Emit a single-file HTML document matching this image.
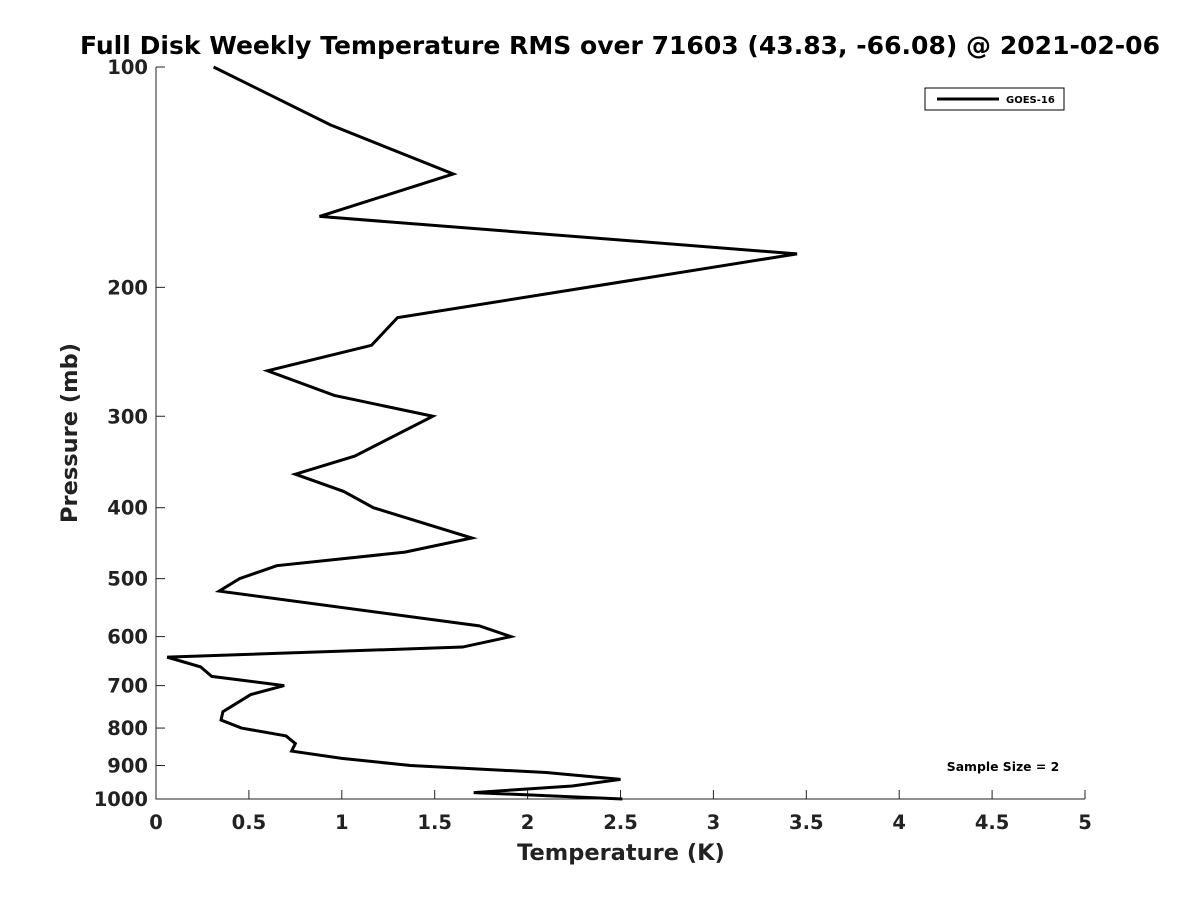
<!DOCTYPE html>
<html><head><meta charset="utf-8"><style>
body{margin:0;background:#fff;font-family:"Liberation Sans","DejaVu Sans",sans-serif}
svg text{font-family:"DejaVu Sans","Liberation Sans",sans-serif;font-weight:bold;fill:#222}
</style></head><body>
<svg id="c" width="1200" height="900">
<text x="620" y="54" text-anchor="middle" font-size="25" textLength="1080" lengthAdjust="spacingAndGlyphs" style="fill:#000">Full Disk Weekly Temperature RMS over 71603 (43.83, -66.08) @ 2021-02-06</text>
<text x="621" y="860" text-anchor="middle" font-size="22.5">Temperature (K)</text>
<text transform="translate(77,433) rotate(-90)" text-anchor="middle" font-size="22.5">Pressure (mb)</text>
<g id="ax"></g>
<g>
<rect x="925" y="88" width="139" height="22" fill="#fff" stroke="#000" stroke-width="1"/>
<line x1="937" y1="99" x2="999" y2="99" stroke="#000" stroke-width="3"/>
<text x="1006" y="103" font-size="10" style="fill:#000">GOES-16</text>
</g>
<text x="1003" y="771" text-anchor="middle" font-size="12.4" style="fill:#000">Sample Size = 2</text>
</svg>
<script>
const xTicks=[0,0.5,1,1.5,2,2.5,3,3.5,4,4.5,5];
const yTicks=[100,200,300,400,500,600,700,800,900,1000];
const pressure=[100,120,140,160,180,220,240,260,281,300,340,360,380,400,440,460,480,500,520,580,600,620,640,660,680,700,720,760,780,800,820,840,860,880,900,920,940,960,980,1000];
const rms=[0.31,0.94,1.60,0.88,3.45,1.30,1.16,0.60,0.96,1.49,1.07,0.75,1.01,1.17,1.70,1.34,0.65,0.45,0.34,1.74,1.91,1.65,0.06,0.24,0.30,0.69,0.51,0.36,0.35,0.46,0.70,0.75,0.73,1.0,1.37,2.10,2.50,2.24,1.71,2.51];
const X=v=>156+v*185.8, Y=p=>67+732*Math.log10(p/100);
const NS='http://www.w3.org/2000/svg', ax=document.getElementById('ax');
function mk(t,a){const e=document.createElementNS(NS,t);for(const k in a)e.setAttribute(k,a[k]);ax.appendChild(e);return e;}
let e=mk('path',{d:`M156,67V799H1085`,fill:'none',stroke:'#222','stroke-width':1});


xTicks.forEach(v=>{const x=X(v);
 mk('line',{x1:x,y1:799,x2:x,y2:790,stroke:'#222'});
 const t=mk('text',{x:x,y:829,'text-anchor':'middle','font-size':19.5});t.textContent=v;
 
 });
yTicks.forEach(p=>{const y=Y(p);
 mk('line',{x1:156,y1:y,x2:165,y2:y,stroke:'#222'});
 const t=mk('text',{x:148,y:y+7,'text-anchor':'end','font-size':19.5});t.textContent=p;
 
 });
const l=mk('polyline',{points:pressure.map((p,i)=>X(rms[i])+','+Y(p)).join(' '),fill:'none',stroke:'#000','stroke-width':3,'stroke-linejoin':'miter'});


</script>
</body></html>
